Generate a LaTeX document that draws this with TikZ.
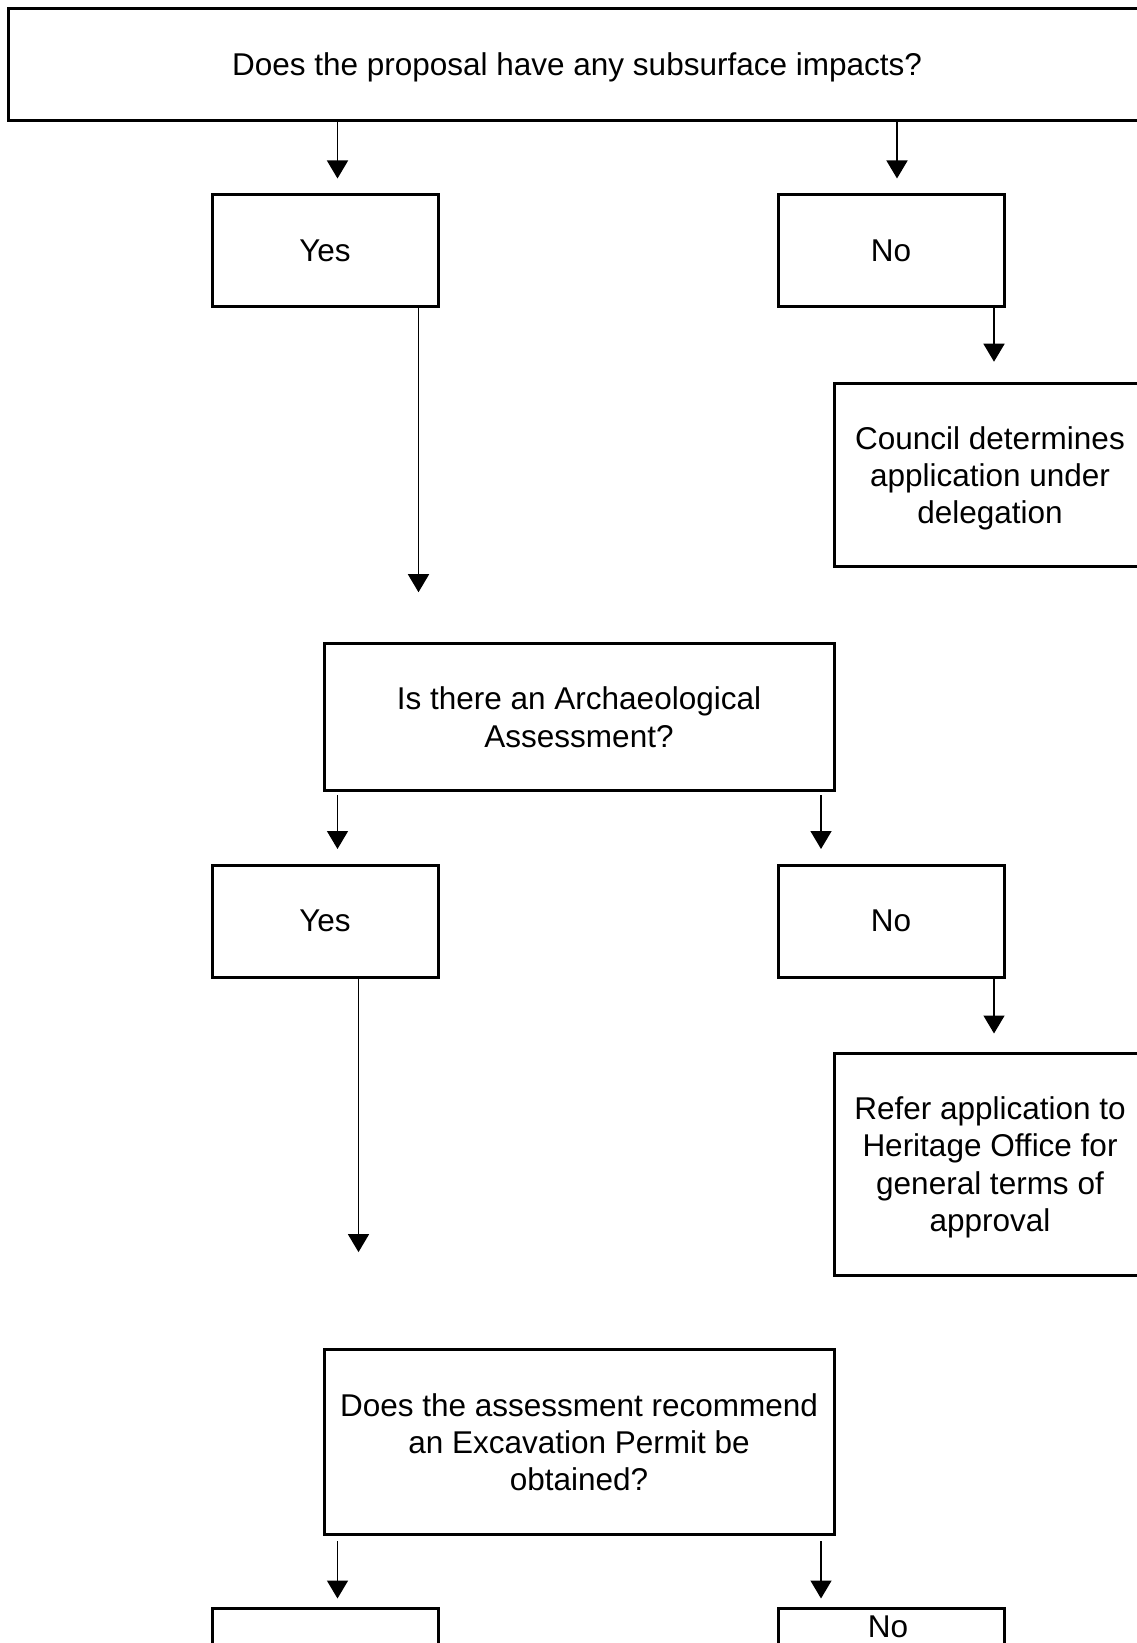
\documentclass[tikz,border=0pt]{standalone}
\usepackage{fontspec}
\setmainfont{Liberation Sans}
\usetikzlibrary{arrows.meta}

\begin{document}
\begin{tikzpicture}[x=0.4pt,y=-0.4pt,
  box/.style={draw,line width=1.2pt,align=center,inner sep=0pt,text depth=-2.6pt,font=\fontsize{12.6}{14.9}\selectfont},
  yesno/.style={box,minimum width=90.4pt,minimum height=44.8pt},
  result/.style={box,minimum width=124.8pt},
  question/.style={box,minimum width=204pt},
  lbl/.style={inner sep=0pt,font=\fontsize{12.6}{14.9}\selectfont},
  arr/.style={line width=0.6pt,-{Triangle[length=7.2pt,width=8.4pt]}}]
\clip (0,0) rectangle (1137,1643);
\fill[white] (0,0) rectangle (1137,1643);

\node[box,minimum width=455pt,minimum height=44.8pt] (q1) at (577,64.5) {Does the proposal have any subsurface impacts?};
\node[yesno] (yes1) at (325,251) {Yes};
\node[yesno] (no1) at (891,251) {No};
\node[result,minimum height=73.4pt] (res1) at (990,475) {Council determines\\application under\\delegation};

\node[question,minimum height=59pt] (q2) at (579,717) {Is there an Archaeological\\Assessment?};
\node[yesno] (yes2) at (325,921) {Yes};
\node[yesno] (no2) at (891,921) {No};
\node[result,minimum height=88.8pt] (res2) at (990,1164) {Refer application to\\Heritage Office for\\general terms of\\approval};

\node[question,minimum height=74.1pt] (q3) at (579,1442) {Does the assessment recommend\\an Excavation Permit be\\obtained?};
\node[yesno] (yes3) at (325,1664.5) {};
\node[yesno] (no3) at (891,1664.5) {};
\node[lbl] (no3lbl) at (888,1627) {No};

\coordinate (a1l) at ([xshift=5pt]yes1.north);
\coordinate (a1r) at ([xshift=2.4pt]no1.north);
\coordinate (d1l) at ([xshift=-8.4pt]yes1.south east);
\coordinate (d1r) at ([xshift=-4.6pt]no1.south east);
\coordinate (a2l) at ([xshift=5pt]yes2.north);
\coordinate (a2r) at ([xshift=-5.8pt]q2.south east);
\coordinate (d2l) at ([xshift=13.4pt]yes2.south);
\coordinate (d2r) at ([xshift=-4.6pt]no2.south east);
\coordinate (a3l) at ([xshift=5pt]yes3.north);
\coordinate (a3r) at ([xshift=-5.8pt]q3.south east);

\draw[arr,shorten >=6pt] (q1.south -| a1l) -- (a1l);
\draw[arr,shorten >=6pt] (q1.south -| a1r) -- (a1r);
\draw[arr,shorten >=19.8pt] (d1l) -- (d1l |- q2.north);
\draw[arr,shorten >=8pt] (d1r) -- (d1r |- res1.north);

\draw[arr,shorten <=1.2pt,shorten >=5.8pt] (q2.south -| a2l) -- (a2l);
\draw[arr,shorten <=1.2pt,shorten >=5.8pt] (a2r) -- (a2r |- no2.north);
\draw[arr,shorten >=38.3pt] (d2l) -- (d2l |- q3.north);
\draw[arr,shorten >=7.2pt] (d2r) -- (d2r |- res2.north);

\draw[arr,shorten <=2pt,shorten >=3.4pt] (q3.south -| a3l) -- (a3l);
\draw[arr,shorten <=2pt,shorten >=3.4pt] (a3r) -- (a3r |- no3.north);

\end{tikzpicture}
\end{document}
